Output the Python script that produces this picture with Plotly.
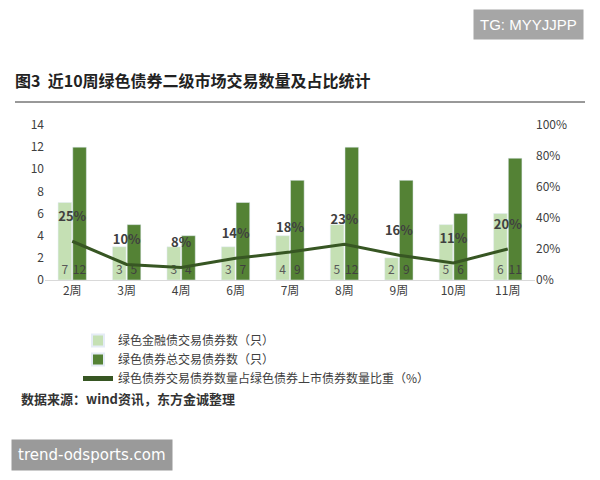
import plotly.graph_objects as go

weeks = ["2周", "3周", "4周", "6周", "7周", "8周", "9周", "10周", "11周"]
green_fin = [7, 3, 3, 3, 4, 5, 2, 5, 6]
green_total = [12, 5, 4, 7, 9, 12, 9, 6, 11]
ratio = [25, 10, 8, 14, 18, 23, 16, 11, 20]

font = "Noto Sans CJK SC"
fig = go.Figure()
fig.add_trace(go.Bar(x=weeks, y=green_fin, name="绿色金融债交易债券数（只）",
                     marker_color="#c5e0b4", text=green_fin, textposition="inside",
                     insidetextanchor="start", textangle=0, constraintext="none",
                     textfont=dict(color="#595959", size=12), width=0.25, offset=-0.26))
fig.add_trace(go.Bar(x=weeks, y=green_total, name="绿色债券总交易债券数（只）",
                     marker_color="#548235", text=green_total, textposition="inside",
                     insidetextanchor="start", textangle=0, constraintext="none",
                     textfont=dict(color="#404040", size=12), width=0.25, offset=0.01))
fig.add_trace(go.Scatter(x=weeks, y=ratio, yaxis="y2", mode="lines+text",
                         name="绿色债券交易债券数量占绿色债券上市债券数量比重（%）",
                         line=dict(color="#375623", width=3),
                         text=[f"<b>{v}%</b><br> " for v in ratio], textposition="top center",
                         textfont=dict(color="#404040", size=13)))

# the page has an 8px body margin: shift reference pixel positions by it
OFF = 8
L, R, T, B = 45 - OFF, 535 - OFF, 125 - OFF, 280 - OFF
fig.update_layout(
    width=600, height=480, plot_bgcolor="white", paper_bgcolor="white",
    margin=dict(l=L, r=600 - R, t=T, b=480 - B),
    font=dict(family=font, color="#404040", size=12),
    barmode="overlay",
    uniformtext=dict(minsize=11, mode="show"),
    xaxis=dict(showline=True, linecolor="#d9d9d9", ticks="", tickfont=dict(size=12)),
    yaxis=dict(range=[0, 14], dtick=2, showgrid=False, zeroline=False, showline=False),
    yaxis2=dict(range=[0, 100], dtick=20, ticksuffix="%", overlaying="y", side="right",
                showgrid=False, zeroline=False),
    legend=dict(x=(78 - OFF - L) / (R - L), y=(B - (326 - OFF)) / (B - T),
                xanchor="left", yanchor="top", font=dict(size=12), itemwidth=30,
                tracegroupgap=0, itemsizing="constant", bgcolor="rgba(0,0,0,0)"),
)

def px(xp, yp):
    return (xp - OFF - L) / (R - L), (B - (yp - OFF)) / (B - T)

items = [
    ("<b>图3  近10周绿色债券二级市场交易数量及占比统计</b>", 14, 80, "left", 16, "#222", font, None),
    ("<b>数据来源：wind资讯，东方金诚整理</b>", 20, 398, "left", 13, "#333", font, None),
    ("TG: MYYJJPP", 528, 25, "center", 15, "white", "Liberation Sans", "#a6a6a6"),
    ("trend-odsports.com", 92, 455, "center", 15, "white", "DejaVu Sans", "#9a9a9a"),
]
for text, xp, yp, anc, size, color, fam, bg in items:
    x, y = px(xp, yp)
    fig.add_annotation(text=text, x=x, y=y, xref="paper", yref="paper", showarrow=False,
                       xanchor=anc, yanchor="middle",
                       font=dict(size=size, color=color, family=fam),
                       bgcolor=bg, borderpad=6 if bg else 0)
x0, _ = px(15, 0)
x1, y = px(585, 102)
fig.add_shape(type="line", xref="paper", yref="paper", x0=x0, x1=x1, y0=y, y1=y,
              line=dict(color="#333", width=1))
fig.write_html("out.html")
